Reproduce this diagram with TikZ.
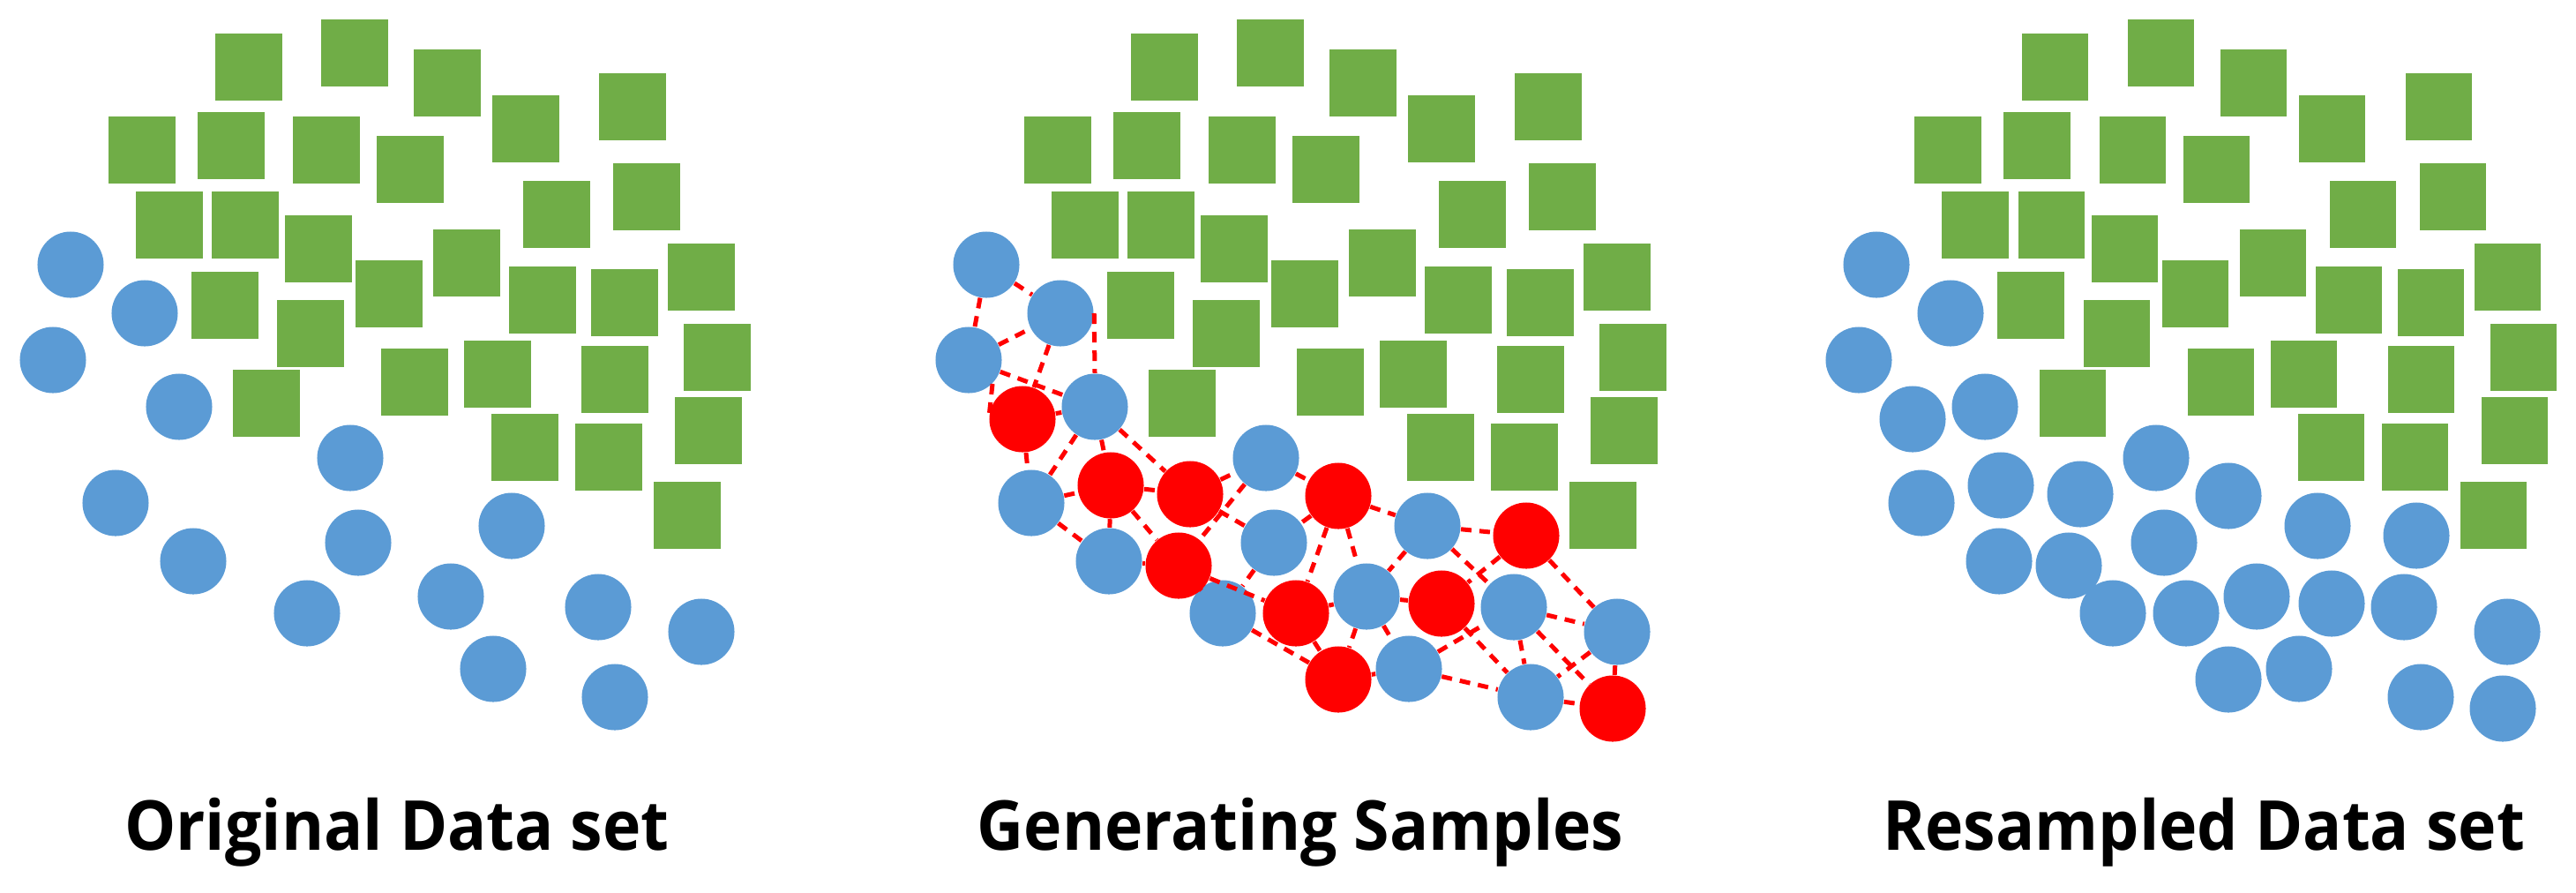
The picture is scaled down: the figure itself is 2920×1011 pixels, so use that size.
\documentclass[tikz,border=0pt]{standalone}
\usepackage{fontspec}
\newfontfamily\labfont[FakeStretch=0.94]{Open Sans}
\definecolor{sqgreen}{HTML}{70AD47}
\definecolor{dotblue}{HTML}{5B9BD5}
\definecolor{dotred}{HTML}{FF0000}
\def\sqlist{1/282/76,2/402/60,3/507/94,4/596/146,5/717/121,6/161/170,7/262/165,8/370/170,9/465/192,10/631/243,11/733/223,12/192/255,13/278/255,14/361/282,15/529/298,16/441/333,17/255/346,18/352/378,19/615/340,20/708/343,21/795/314,22/813/405,23/470/433,24/564/424,25/697/430,26/803/488,27/302/457,28/595/507,29/690/518,30/779/584}
\def\blues{1/80/300,2/164/355,3/60/408,4/203/461,5/397/519,6/131/570,7/219/636,8/406/615,9/580/596,10/348/695,11/511/676,12/678/688,13/795/716,14/559/758,15/697/790}
\def\reds{1/121/475,2/221/550,3/311/560,4/298/641,5/479/562,6/431/695,7/596/684,8/692/607,9/479/770,10/790/803}
\begin{document}
\begin{tikzpicture}[x=0.01cm,y=-0.01cm,
  sq/.style={rectangle,fill=sqgreen,minimum size=0.75cm,inner sep=0pt},
  bdot/.style={circle,fill=dotblue,minimum size=0.75cm,inner sep=0pt},
  rdot/.style={circle,fill=dotred,minimum size=0.75cm,inner sep=0pt},
  link/.style={draw=dotred,line width=0.05cm,dash pattern=on 0.12cm off 0.09cm},
  lab/.style={anchor=base,font=\labfont\bfseries\fontsize{22.2}{26}\selectfont}]
\useasboundingbox (0,0) rectangle (2920,1011);
% ---------- panel 1 ----------
\begin{scope}
  \foreach \n/\x/\y in \sqlist \node[sq] (sa\n) at (\x,\y) {};
  \foreach \n/\x/\y in \blues \node[bdot] (pa\n) at (\x,\y) {};
\end{scope}
% ---------- panel 2 ----------
\begin{scope}[shift={(1038,0)}]
  \foreach \n/\x/\y in \sqlist \node[sq] (sb\n) at (\x,\y) {};
  \foreach \n/\x/\y in \blues \node[bdot] (b\n) at (\x,\y) {};
  \foreach \n/\x/\y in \reds \node[rdot] (r\n) at (\x,\y) {};
\end{scope}
\foreach \a/\b in {b1/b2,b1/b3,b3/b2,b2/r1,b3/b4,r1/b4,r1/b6,b4/b6,b4/r2,b4/r3,b6/r2,r2/r3,r2/b7,r2/r4,b6/b7,r3/b5,b5/r5,b5/r4,r3/b8,r5/b8,b7/r4,r4/r6,r4/b10,b8/b10,b10/r9,r6/r9,r5/b9,r5/r6,r5/b11,b9/r8,b9/b11,b9/b12,r8/r7,r8/b13,b12/b13,b11/r7,r6/b11,b11/b14,b11/r9,r9/b14,b14/b12,b14/b15,r7/b15,b12/b15,b12/r10,b13/b15,b13/r10,b15/r10}
  \draw[link] (\a) -- (\b);
\draw[link] (b2.east) -- (b4.north);
\draw[link] (b3.south east) -- (r1.west);
% ---------- panel 3 ----------
\begin{scope}[shift={(2047,0)}]
  \foreach \n/\x/\y in \sqlist \node[sq] (sc\n) at (\x,\y) {};
  \foreach \n/\x/\y in \blues \node[bdot] (pc\n) at (\x,\y) {};
  \foreach \n/\x/\y in \reds \node[bdot] (pr\n) at (\x,\y) {};
\end{scope}
% ---------- labels ----------
\node[lab] (t1) at (450,963) {Original Data set};
\node[lab] (t2) at (1474,963) {Generating Samples};
\node[lab] (t3) at (2498,963) {Resampled Data set};
\end{tikzpicture}
\end{document}
